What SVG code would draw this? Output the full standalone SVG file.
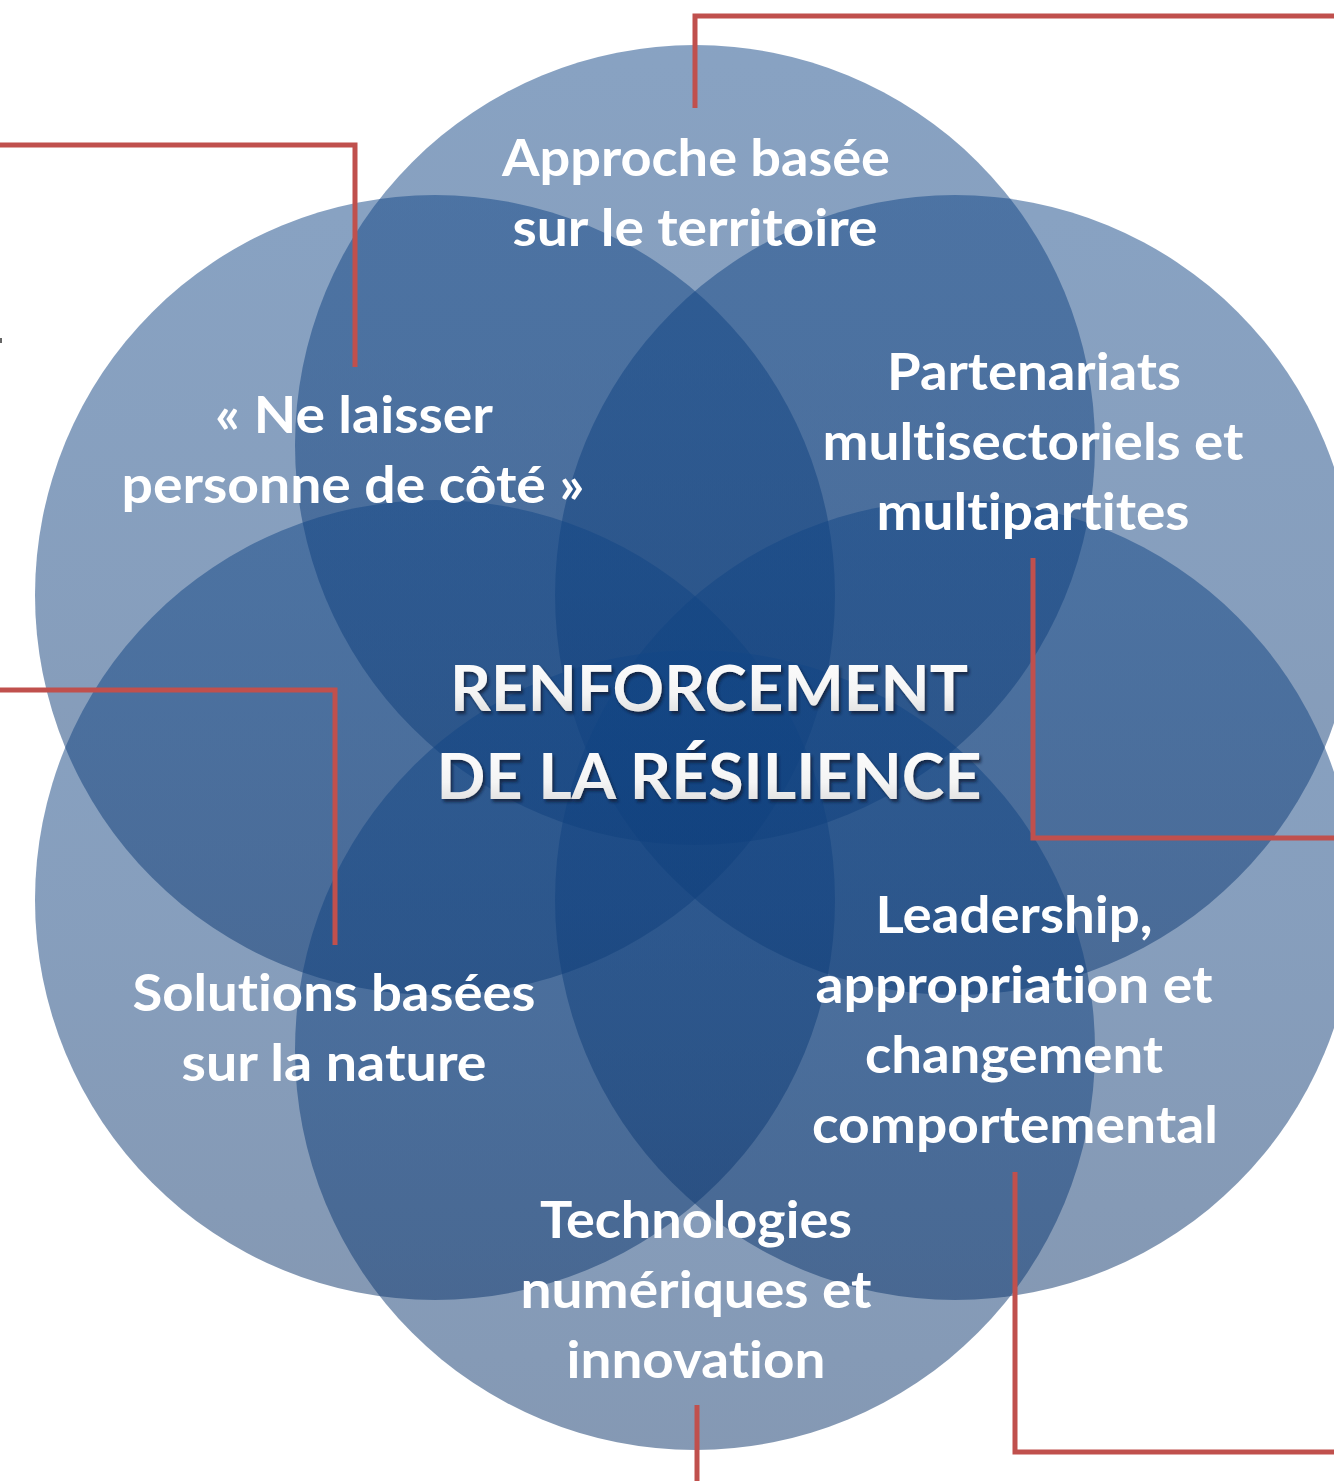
<svg xmlns="http://www.w3.org/2000/svg" width="1334" height="1481" viewBox="0 0 1334 1481">
  <defs>
    <linearGradient id="petal" x1="0" y1="0" x2="0" y2="1">
      <stop offset="0" stop-color="#124686"/>
      <stop offset="0.5" stop-color="#0f3f7c"/>
      <stop offset="1" stop-color="#0b3369"/>
    </linearGradient>
    <linearGradient id="titleFill" x1="0" y1="0" x2="0" y2="1">
      <stop offset="0" stop-color="#ffffff"/>
      <stop offset="0.6" stop-color="#f4f4f4"/>
      <stop offset="1" stop-color="#d6d6d6"/>
    </linearGradient>
    <filter id="shadow" x="-10%" y="-20%" width="120%" height="150%">
      <feDropShadow dx="2" dy="3" stdDeviation="1.8" flood-color="#0a1a33" flood-opacity="0.75"/>
    </filter>
    <style>
      .petal { fill: url(#petal); fill-opacity: 0.5; }
      .conn { fill: none; stroke: #C0504D; stroke-width: 5; stroke-linejoin: miter; }
      .lbl { font-family: Lato, "Open Sans", "Liberation Sans", sans-serif; font-weight: 700; font-size: 52px; fill: #ffffff; text-anchor: middle; font-variant-ligatures: none; font-feature-settings: "liga" 0, "clig" 0; }
      .title { font-family: Lato, "Open Sans", "Liberation Sans", sans-serif; font-weight: 700; font-size: 64px; fill: url(#titleFill); text-anchor: middle; filter: url(#shadow); font-variant-ligatures: none; }
    </style>
  </defs>

  <rect width="1334" height="1481" fill="#ffffff"/>

  <g id="circles">
    <circle id="circle-top" class="petal" cx="695" cy="445" r="400"/>
    <circle id="circle-upper-left" class="petal" cx="435" cy="595" r="400"/>
    <circle id="circle-upper-right" class="petal" cx="955" cy="595" r="400"/>
    <circle id="circle-lower-left" class="petal" cx="435" cy="900" r="400"/>
    <circle id="circle-lower-right" class="petal" cx="955" cy="900" r="400"/>
    <circle id="circle-bottom" class="petal" cx="695" cy="1050" r="400"/>
  </g>

  <g id="connectors">
    <polyline class="conn" points="695,108 695,16 1334,16"/>
    <polyline class="conn" points="0,145 355,145 355,367"/>
    <polyline class="conn" points="0,690 335,690 335,945"/>
    <polyline class="conn" points="1033,558 1033,838 1334,838"/>
    <polyline class="conn" points="1015,1172 1015,1452 1334,1452"/>
    <polyline class="conn" points="697,1405 697,1481"/>
  </g>

  <rect x="0" y="338" width="2" height="5" fill="#666666"/>

  <g id="node-territoire">
    <text class="lbl" x="696" y="176" textLength="388" lengthAdjust="spacingAndGlyphs">Approche basée</text>
    <text class="lbl" x="695" y="246" textLength="365" lengthAdjust="spacingAndGlyphs">sur le territoire</text>
  </g>

  <g id="node-personne">
    <text class="lbl" x="354" y="433" textLength="278" lengthAdjust="spacingAndGlyphs">« Ne laisser</text>
    <text class="lbl" x="353" y="503" textLength="463" lengthAdjust="spacingAndGlyphs">personne de côté »</text>
  </g>

  <g id="node-partenariats">
    <text class="lbl" x="1034" y="390" textLength="294" lengthAdjust="spacingAndGlyphs">Partenariats</text>
    <text class="lbl" x="1033" y="460" textLength="421" lengthAdjust="spacingAndGlyphs">multisectoriels et</text>
    <text class="lbl" x="1033" y="530" textLength="313" lengthAdjust="spacingAndGlyphs">multipartites</text>
  </g>

  <g id="node-nature">
    <text class="lbl" x="334" y="1011" textLength="403" lengthAdjust="spacingAndGlyphs">Solutions basées</text>
    <text class="lbl" x="334" y="1081" textLength="305" lengthAdjust="spacingAndGlyphs">sur la nature</text>
  </g>

  <g id="node-leadership">
    <text class="lbl" x="1014" y="933" textLength="277" lengthAdjust="spacingAndGlyphs">Leadership,</text>
    <text class="lbl" x="1014" y="1003" textLength="397" lengthAdjust="spacingAndGlyphs">appropriation et</text>
    <text class="lbl" x="1014" y="1073" textLength="298" lengthAdjust="spacingAndGlyphs">changement</text>
    <text class="lbl" x="1015" y="1143" textLength="406" lengthAdjust="spacingAndGlyphs">comportemental</text>
  </g>

  <g id="node-technologies">
    <text class="lbl" x="696" y="1238" textLength="312" lengthAdjust="spacingAndGlyphs">Technologies</text>
    <text class="lbl" x="696" y="1308" textLength="351" lengthAdjust="spacingAndGlyphs">numériques et</text>
    <text class="lbl" x="696" y="1378" textLength="259" lengthAdjust="spacingAndGlyphs">innovation</text>
  </g>

  <g id="node-center">
    <text class="title" x="709" y="711" textLength="518" lengthAdjust="spacingAndGlyphs">RENFORCEMENT</text>
    <text class="title" x="709" y="799" textLength="545" lengthAdjust="spacingAndGlyphs">DE LA RÉSILIENCE</text>
  </g>
</svg>
